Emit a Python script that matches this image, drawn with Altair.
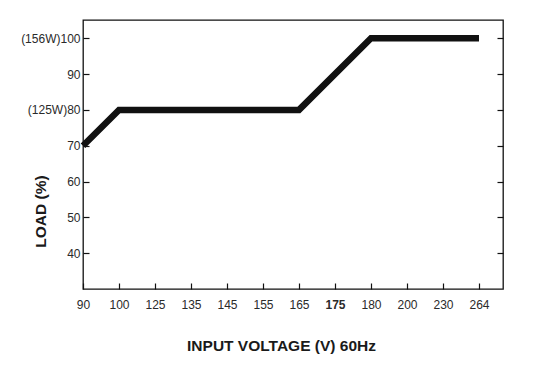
import altair as alt
import pandas as pd

# Tick labels of the x axis (evenly spaced categories)
x_labels = ["90", "100", "125", "135", "145", "155", "165", "175", "180", "200", "230", "264"]
# Derating curve
line_voltage = ["90", "100", "165", "180", "264"]
line_load = [70, 80, 80, 100, 100]
# Y ticks and annotated wattages
y_ticks = [40, 50, 60, 70, 80, 90, 100]
watt_notes = {100: "(156W)", 80: "(125W)"}
bold_label = "175"

df = pd.DataFrame({
    "pos": [x_labels.index(v) for v in line_voltage],
    "load": line_load,
})

label_arr = "[" + ",".join("'" + s + "'" for s in x_labels) + "]"
y_expr = " : ".join(
    [f"datum.value == {k} ? '{v}{k}'" for k, v in watt_notes.items()] + ["datum.label"]
)
bold_idx = x_labels.index(bold_label)

LABEL_FONT = "Liberation Sans"
TITLE_FONT = "Liberation Sans"

x_scale = alt.Scale(domain=[0, 11.667], nice=False, zero=False)
y_scale = alt.Scale(domain=[30, 105.1], nice=False, zero=False)

x_axis = alt.Axis(
    values=list(range(len(x_labels))),
    labelExpr=f"{label_arr}[datum.value]",
    labelFontWeight=alt.expr(f"datum.value == {bold_idx} ? 'bold' : 'normal'"),
    offset=-6, tickSize=6, ticks=True, domain=False, grid=False,
    tickColor="#111111", tickWidth=1.2,
    labelPadding=10, labelFont=LABEL_FONT, labelFontSize=12, labelColor="#2a2a2a",
    labelBaseline="top", labelFlush=False, labelOverlap=False,
    title="INPUT VOLTAGE (V) 60Hz", titleFont=TITLE_FONT, titleFontSize=15.5,
    titleFontWeight="bold", titleColor="#1a1a1a", titleX=198, titleY=67,
    titleAlign="center", titleBaseline="alphabetic",
)

line = alt.Chart(df).mark_line(
    color="#111111", strokeWidth=6.5, strokeCap="butt", strokeJoin="miter", clip=False
).encode(
    x=alt.X("pos:Q", scale=x_scale, axis=x_axis),
    y=alt.Y("load:Q", scale=y_scale, axis=alt.Axis(
        values=y_ticks, labelExpr=y_expr,
        offset=-6, tickSize=6, ticks=True, domain=False, grid=False,
        tickColor="#111111", tickWidth=1.2,
        labelPadding=3, labelFont=LABEL_FONT, labelFontSize=12, labelColor="#2a2a2a",
        labelBaseline="middle", labelFlush=False, labelOverlap=False,
        title="LOAD (%)", titleFont=TITLE_FONT, titleFontSize=15.5,
        titleFontWeight="bold", titleColor="#1a1a1a", titleX=-44, titleY=191,
        titleAngle=-90, titleAlign="center", titleBaseline="alphabetic",
    )),
)

right = alt.Chart(df).mark_point(opacity=0).encode(
    x=alt.X("pos:Q", scale=x_scale, axis=x_axis),
    y=alt.Y("load:Q", scale=y_scale, axis=alt.Axis(
        orient="right", values=y_ticks, labels=False, title=None,
        offset=-6, tickSize=6, ticks=True, domain=False, grid=False,
        tickColor="#111111", tickWidth=1.2,
    )),
)

chart = alt.layer(line, right).resolve_axis(y="independent").properties(
    width=420, height=269,
    autosize=alt.AutoSizeParams(type="none"),
    padding={"left": 83, "top": 20, "right": 42, "bottom": 90},
    background="white",
).configure_view(stroke="#111111", strokeWidth=1.3)

chart.save("out.html", embed_options={"renderer": "svg", "actions": False})
